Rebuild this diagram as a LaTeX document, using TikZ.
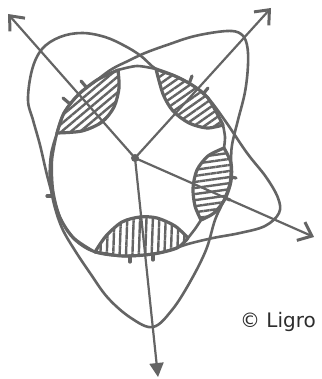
\documentclass[tikz,border=0pt]{standalone}
\usepackage{fontspec}
\setmainfont{DejaVu Sans}
\usepackage{tikz}
\usetikzlibrary{arrows.meta, patterns.meta}

\definecolor{ink}{RGB}{100,100,100}
\definecolor{textgray}{RGB}{45,45,45}

\begin{document}
\begin{tikzpicture}[x=0.5pt, y=-0.5pt, line cap=round, line join=round,
		curve/.style={draw=ink, line width=1.3pt},
		lens/.style={draw=ink, line width=1.6pt, pattern color=ink},
		ray/.style={draw=ink, line width=1.1pt},
		barb/.style={-{Straight Barb[length=6pt, width=10pt, line width=1.5pt]}},
		tick/.style={draw=ink, line width=1.6pt}]
				\useasboundingbox (0,0) rectangle (321,379);
				
				% 中心点和箭头端点
				\coordinate (O) at (135,158);
				\coordinate (tipUL) at (8,14);
				\coordinate (tipUR) at (271,8);
				\coordinate (tipR) at (314,237);
				\coordinate (tipD) at (158,377);
				
				% 向右的回线
				\draw[curve] plot[smooth cycle, tension=0.6] coordinates {(28,100) (32,70) (42,49) (60,37) (82,33) (105,37) (125,46) (141,56) (156,69) (175,76) (192,85) (208,98) (226,122) (247,153) (266,177) (278,198) (279,213) (265,226) (240,233) (213,238) (188,244) (170,250) (153,254) (123,256) (95,252) (75,240) (62,222) (54,200) (47,175) (40,145) (33,120)};
				
				% 向下的回线
				\draw[curve] plot[smooth cycle, tension=0.6] coordinates {(227,31) (241,34) (247,45) (248,65) (245,92) (238,120) (232,145) (231,163) (230,182) (224,200) (215,220) (206,250) (190,282) (172,310) (153,327) (131,318) (108,298) (90,273) (74,249) (62,228) (54,204) (50,180) (51,155) (57,133) (64,113) (78,95) (97,80) (112,69) (128,61) (145,53) (167,45) (195,36)};
				
				% 内圈
				\draw[curve] plot[smooth] coordinates {(118,70) (137,66) (156,69)};
				\draw[curve] plot[smooth] coordinates {(223,125) (225,137) (224,148)};
				\draw[curve] plot[smooth] coordinates {(201,220) (195,229) (188,238)};
				\draw[curve] plot[smooth] coordinates {(95,252) (74,238) (60,217) (53,190) (52,160) (57,133)};
				
				% 阴影区
				\draw[lens, pattern={Lines[angle=40, distance=3pt, line width=1.2pt]}]
					plot[smooth] coordinates {(57,133) (64,113) (78,95) (97,80) (118,70)}
					-- plot[smooth] coordinates {(118,70) (119,88) (114,107) (102,122) (82,131) (57,133)} -- cycle;
				\draw[lens, pattern={Lines[angle=35, distance=3pt, line width=1.2pt]}]
					plot[smooth] coordinates {(156,69) (175,76) (192,85) (208,98) (223,125)}
					-- plot[smooth] coordinates {(223,125) (207,128) (189,123) (173,111) (163,94) (156,69)} -- cycle;
				\draw[lens, pattern={Lines[angle=8, distance=3pt, line width=1.2pt]}]
					plot[smooth] coordinates {(224,148) (231,163) (231,181) (225,199) (214,213) (201,220)}
					-- plot[smooth] coordinates {(201,220) (195,206) (193,188) (197,170) (208,156) (224,148)} -- cycle;
				\draw[lens, pattern={Lines[angle=88, distance=3.2pt, line width=1.2pt]}]
					plot[smooth] coordinates {(95,252) (123,256) (153,254) (177,248) (188,238)}
					-- plot[smooth] coordinates {(188,238) (175,226) (157,218) (140,217) (122,222) (106,236) (95,252)} -- cycle;
				
				% 小刻线
				\draw[tick] (87,88) -- (81,81);
				\draw[tick] (70,104) -- (63,98);
				\draw[tick] (189,84) -- (192,76);
				\draw[tick] (203,94) -- (208,88);
				\draw[tick] (231,177) -- (236,178);
				\draw[tick] (225,198) -- (230,200);
				\draw[tick] (130,256) -- (130,262);
				\draw[tick] (153,254) -- (153,260);
				\draw[tick] (52,196) -- (47,196);
				
				% 箭头
				\draw[ray, barb] (O) -- (tipUL);
				\draw[ray, barb] (O) -- (tipUR);
				\draw[ray, barb] (O) -- (tipR);
				\draw[ray, -{Triangle[length=7pt, width=7pt]}] (O) -- (tipD);
				\fill[ink] (O) circle (4);
				
				% 版权
				\node[text=textgray, font=\fontsize{10}{12}\selectfont] (copy) at (278,322) {© Ligro};
			\end{tikzpicture}
\end{document}
